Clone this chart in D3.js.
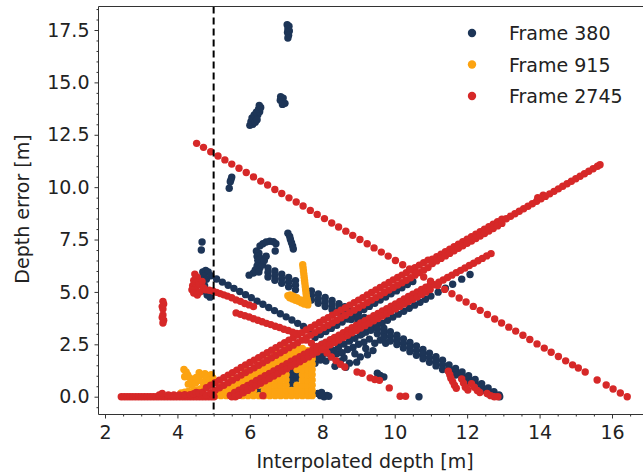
<!DOCTYPE html>
<html>
<head>
<meta charset="utf-8">
<script src="https://cdn.jsdelivr.net/npm/d3@7/dist/d3.min.js"></script>
<style>
  html, body { margin: 0; padding: 0; background: #fff; }
  svg { display: block; font-family: "DejaVu Sans", sans-serif; }
</style>
</head>
<body>
<svg id="chart" width="643" height="475"></svg>
<script>
// ---- data: [interpolated depth (m), depth error (m)] ----
const seriesNames = ["Frame 380", "Frame 915", "Frame 2745"];
const seriesColors = ["#1d3557", "#fca311", "#d62828"];
const xTicks = [2, 4, 6, 8, 10, 12, 14, 16];
const yTicks = [0, 2.5, 5, 7.5, 10, 12.5, 15, 17.5];
const thresholdDepth = 5;

const frame380 = [
  // isolated high-error clusters
  [7.03,17.75],[7.08,17.68],[7.05,17.55],[7.09,17.45],[7.04,17.38],[7.07,17.25],[7.05,17.12],
  [6.0,12.95],[6.08,13.0],[6.03,13.12],[6.12,13.18],[6.06,13.3],[6.16,13.32],[6.12,13.45],[6.22,13.45],
  [6.18,13.58],[6.27,13.6],[6.24,13.72],[6.3,13.8],[6.26,13.9],[6.15,13.1],[6.2,13.22],
  [6.85,14.32],[6.92,14.25],[6.84,14.15],[6.9,14.08],[6.97,14.0],[6.9,13.95],
  [5.5,10.48],[5.48,10.36],[5.46,10.26],[5.43,9.95],
  [4.66,7.0],[4.68,7.38],
  // upper cluster
  [6.28,7.2],[6.36,7.3],[6.45,7.38],[6.55,7.42],[6.65,7.4],[6.72,7.3],[6.7,6.95],
  [7.05,7.8],[7.1,7.65],[7.12,7.5],[7.15,7.35],[7.18,7.2],[7.2,7.05],
  [6.18,6.95],[6.25,6.85],[6.2,6.7],[6.3,6.6],[6.22,6.5],[6.32,6.4],[6.2,6.25],[6.28,6.15],
  [6.35,6.3],[6.4,6.5],[6.45,6.7],[6.15,6.05],[6.1,5.9],[6.25,5.95],[5.98,5.8],
  // comb (upper part)
  [6.5,6.15],[6.5,5.93],[6.5,5.71],[6.69,6.0],[6.69,5.78],[6.69,5.56],[6.88,5.85],[6.88,5.63],[6.88,5.41],
  [7.07,5.69],[7.07,5.47],[7.07,5.25],[7.26,5.54],[7.26,5.32],[7.26,5.1],
  [7.7,5.05],[7.7,4.83],[7.7,4.61],[7.89,4.9],[7.89,4.68],[7.89,4.46],[8.08,4.74],[8.08,4.52],[8.08,4.3],
  [8.27,4.59],[8.27,4.37],[8.27,4.15],[8.46,4.44],[8.46,4.22],[8.46,4.0],[8.62,4.3],[8.62,4.08],[8.62,3.86],
  // descending dotted line
  [4.7,5.95],[4.78,6.02],[4.85,5.95],[4.72,5.75],[4.8,5.6],[4.75,5.3],[4.7,5.05],[4.82,4.85],[4.9,4.75],
  [4.92,5.77],[5.08,5.62],[5.24,5.47],[5.4,5.32],[5.56,5.17],[5.72,5.02],[5.88,4.87],[6.04,4.72],
  [6.2,4.56],[6.36,4.41],[6.52,4.26],[6.68,4.11],[6.84,3.96],[7.0,3.81],[7.16,3.66],
  [7.32,3.5],[7.48,3.35],[7.64,3.2],
  // line between the red bands
  [7.8,2.82],[7.95,2.97],[8.1,3.11],[8.25,3.26],[8.4,3.41],[8.55,3.56],[8.7,3.71],[8.85,3.86],
  [9.0,4.01],[9.15,4.16],[9.3,4.31],[9.45,4.46],[9.6,4.61],[9.75,4.76],[9.9,4.91],[10.05,5.05],
  [10.2,5.2],[10.35,5.35],[10.5,5.5],
  // line below the lower red band
  [7.4,1.36],[7.55,1.51],[7.7,1.65],[7.85,1.79],[8.0,1.94],[8.15,2.08],[8.3,2.22],[8.45,2.36],
  [8.6,2.51],[8.75,2.65],[8.9,2.79],[9.05,2.94],[9.2,3.08],[9.35,3.22],[9.5,3.37],[9.65,3.51],
  [9.8,3.65],[9.95,3.8],[10.1,3.94],[10.25,4.08],[10.4,4.22],[10.55,4.37],[10.7,4.51],[10.85,4.65],
  [11.0,4.8],[11.2,4.99],[11.4,5.18],[11.6,5.37],[11.85,5.61],[12.08,5.83],
  // dense crossing area
  [7.8,1.6],[7.95,1.75],[8.1,1.7],[8.25,1.9],[8.4,2.05],[8.55,2.1],[8.7,2.25],[8.85,2.35],
  [9.0,2.5],[9.15,2.6],[9.3,2.75],[8.2,2.35],[8.5,2.6],[8.8,2.8],[9.1,3.0],[7.9,2.1],
  [8.6,1.85],[8.9,2.05],[9.2,2.3],[9.45,2.55],[9.6,2.7],[9.75,2.55],[8.5,1.7],[8.75,1.6],[9.05,1.9],
  [8.35,1.45],[8.65,1.4],[8.95,1.65],[9.25,2.0],[9.4,2.2],[8.0,2.5],[8.3,2.75],[8.6,3.0],[8.9,3.25],
  // comb (lower part)
  [8.8,4.12],[8.8,3.9],[8.8,3.68],[8.98,3.95],[8.98,3.73],[8.98,3.51],[9.16,3.78],[9.16,3.56],[9.16,3.34],
  [9.34,3.61],[9.34,3.39],[9.34,3.17],[9.52,3.44],[9.52,3.22],[9.52,3.0],[9.7,3.27],[9.7,3.05],[9.7,2.83],
  [9.88,3.1],[9.88,2.88],[9.88,2.66],[10.06,2.93],[10.06,2.71],[10.06,2.49],[10.24,2.76],[10.24,2.54],[10.24,2.32],
  [10.42,2.59],[10.42,2.37],[10.42,2.15],[10.6,2.42],[10.6,2.2],[10.6,1.98],[10.78,2.25],[10.78,2.03],[10.78,1.81],
  [10.96,2.08],[10.96,1.86],[10.96,1.64],[11.14,1.91],[11.14,1.69],[11.14,1.47],[11.32,1.74],[11.32,1.52],[11.32,1.3],
  [11.5,1.52],[11.5,1.36],[11.5,1.2],[11.68,1.35],[11.68,1.19],[11.68,1.03],[11.86,1.18],[11.86,1.02],[11.86,0.86],
  [12.04,1.0],[12.04,0.84],[12.04,0.68],[12.22,0.82],[12.22,0.66],[12.22,0.5],[12.4,0.62],[12.4,0.46],[12.4,0.3],
  [12.58,0.42],[12.58,0.28],[12.58,0.14],[12.74,0.24],[12.74,0.1],[12.88,0.08],[12.9,0.0],
  // small clusters near zero
  [7.88,0.15],[7.95,0.05],[8.05,0.0],[8.13,0.06],[7.98,0.2],[8.18,0.02],
  [9.52,1.12],[9.6,1.02],[9.7,0.94],[10.67,0.0],
  [7.15,0.6],[7.13,0.85],[7.17,1.1],[7.2,1.3],[7.3,0.85],[7.32,1.05],[6.25,0.3]
];

const frame915 = [
  // check-shaped cluster
  [7.46,6.3],[7.47,6.15],[7.48,6.0],[7.49,5.85],[7.5,5.7],[7.51,5.55],[7.52,5.4],[7.53,5.25],
  [7.54,5.1],[7.55,4.95],[7.56,4.8],[7.58,4.65],[7.6,4.5],[7.6,4.38],
  [7.5,4.42],[7.42,4.48],[7.34,4.55],[7.26,4.6],[7.18,4.66],[7.1,4.72],[7.05,4.82],
  [7.12,4.85],[7.2,4.8],[7.3,4.72],[7.4,4.62],[7.5,4.55],
  // near the threshold
  [4.18,1.3],[4.24,1.18],[4.28,1.05],[4.2,0.95],[4.34,0.9],[4.42,0.8],[4.6,1.15],[4.68,1.05],
  [4.76,1.1],[4.85,1.0],[4.93,1.05],[4.8,0.88],[4.9,0.8],[4.1,0.18],[4.2,0.22],[4.3,0.25],
  [4.45,0.28],[4.55,0.32],[4.65,0.38],[4.75,0.48],[4.85,0.58],[4.95,0.7],[4.4,0.55],[4.5,0.65],
  [4.6,0.78],[4.3,0.6],[4.7,0.7],[4.52,0.92],[4.98,0.9],
  // dense low-error region
  [5.05,0.05],[5.05,0.3],
  [5.2,0.05],[5.2,0.3],[5.2,0.5],
  [5.35,0.05],[5.35,0.3],[5.35,0.55],
  [5.5,0.05],[5.5,0.3],[5.5,0.55],[5.5,0.8],
  [5.65,0.05],[5.65,0.3],[5.65,0.55],[5.65,0.8],
  [5.8,0.05],[5.8,0.3],[5.8,0.55],[5.8,0.8],[5.8,1.05],
  [5.95,0.05],[5.95,0.3],[5.95,0.55],[5.95,0.8],[5.95,1.05],[5.95,1.25],
  [6.1,0.05],[6.1,0.3],[6.1,0.55],[6.1,0.8],[6.1,1.05],[6.1,1.3],
  [6.25,0.05],[6.25,0.55],[6.25,0.8],[6.25,1.05],[6.25,1.3],[6.25,1.5],
  [6.4,0.05],[6.4,0.3],[6.4,0.55],[6.4,0.8],[6.4,1.05],[6.4,1.3],[6.4,1.55],
  [6.55,0.05],[6.55,0.3],[6.55,0.55],[6.55,0.8],[6.55,1.05],[6.55,1.3],[6.55,1.55],[6.55,1.8],
  [6.7,0.05],[6.7,0.3],[6.7,0.55],[6.7,0.8],[6.7,1.05],[6.7,1.3],[6.7,1.55],[6.7,1.8],[6.7,2.0],
  [6.85,0.05],[6.85,0.3],[6.85,0.55],[6.85,0.8],[6.85,1.05],[6.85,1.3],[6.85,1.55],[6.85,1.8],[6.85,2.05],
  [7.0,0.05],[7.0,0.3],[7.0,0.55],[7.0,0.8],[7.0,1.05],[7.0,1.3],[7.0,1.55],[7.0,1.8],[7.0,2.05],[7.0,2.25],
  [7.15,0.05],[7.15,0.3],[7.15,1.55],[7.15,1.8],[7.15,2.05],[7.15,2.3],
  [7.3,0.05],[7.3,0.3],[7.3,0.55],[7.3,1.3],[7.3,1.55],[7.3,1.8],[7.3,2.05],[7.3,2.3],
  [7.45,0.05],[7.45,0.3],[7.45,0.55],[7.45,0.8],[7.45,1.05],[7.45,1.3],[7.45,1.55],[7.45,1.8],[7.45,2.05],[7.45,2.3],
  [7.6,0.05],[7.6,0.3],[7.6,0.55],[7.6,0.8],[7.6,1.05],[7.6,1.3],[7.6,1.55],[7.6,1.8],[7.6,2.0],[7.6,2.2],
  [7.72,0.05],[7.72,0.3],[7.72,0.55],[7.72,0.8],[7.72,1.05],[7.72,1.3],[7.72,1.55],[7.72,1.8],[7.72,2.0]
];

const frame2745 = [
  // flat run at zero error
  [2.45,0],[2.53,0],[2.61,0],[2.69,0],[2.77,0],[2.85,0],[2.93,0],[3.01,0],[3.09,0],[3.17,0],[3.25,0],
  [3.33,0],[3.41,0],[3.49,0],[3.57,0],[3.65,0],[3.73,0],[3.81,0],[3.89,0],[3.97,0],[4.05,0],[4.13,0],
  [4.21,0],[4.29,0],[4.37,0],[4.45,0],[4.53,0],[4.61,0],[4.69,0],[4.77,0],[4.85,0],[4.93,0],[5.01,0],
  [3.5,0.08],[3.58,0.16],[3.75,0.08],[3.9,0.08],[4.05,0.08],[4.2,0.1],[4.35,0.1],[4.45,0.14],[4.52,0.2],
  [4.6,0.18],[4.7,0.22],
  // upper rising band
  [4.8,0.43],[4.8,0.07],[4.92,0.55],[4.92,0.19],[5.04,0.67],[5.04,0.31],[5.16,0.79],[5.16,0.43],
  [5.28,0.91],[5.28,0.55],[5.4,1.03],[5.4,0.67],[5.52,1.15],[5.52,0.79],[5.64,1.27],[5.64,0.91],
  [5.76,1.39],[5.76,1.03],[5.88,1.51],[5.88,1.15],[6.0,1.63],[6.0,1.27],[6.12,1.74],[6.12,1.38],
  [6.24,1.86],[6.24,1.5],[6.36,1.98],[6.36,1.62],[6.48,2.1],[6.48,1.74],[6.6,2.22],[6.6,1.86],
  [6.72,2.34],[6.72,1.98],[6.84,2.46],[6.84,2.1],[6.96,2.58],[6.96,2.22],[7.08,2.7],[7.08,2.34],
  [7.2,2.82],[7.2,2.46],[7.32,2.94],[7.32,2.58],[7.44,3.06],[7.44,2.7],[7.56,3.18],[7.56,2.82],
  [7.68,3.3],[7.68,2.94],[7.8,3.42],[7.8,3.06],[7.92,3.54],[7.92,3.18],[8.04,3.66],[8.04,3.3],
  [8.16,3.77],[8.16,3.41],[8.28,3.89],[8.28,3.53],[8.4,4.01],[8.4,3.65],[8.52,4.13],[8.52,3.77],
  [8.64,4.25],[8.64,3.89],[8.76,4.37],[8.76,4.01],[8.88,4.49],[8.88,4.13],[9.0,4.61],[9.0,4.25],
  [9.12,4.73],[9.12,4.37],[9.24,4.85],[9.24,4.49],[9.36,4.97],[9.36,4.61],[9.48,5.09],[9.48,4.73],
  [9.6,5.21],[9.6,4.85],[9.72,5.33],[9.72,4.97],[9.84,5.45],[9.84,5.09],[9.96,5.57],[9.96,5.21],
  [10.08,5.69],[10.08,5.33],[10.2,5.8],[10.2,5.44],[10.32,5.92],[10.32,5.56],[10.44,6.04],[10.44,5.68],
  [10.56,6.16],[10.56,5.8],[10.68,6.28],[10.68,5.92],[10.8,6.4],[10.8,6.04],[10.92,6.52],[10.92,6.16],
  [11.04,6.56],[11.04,6.36],[11.16,6.68],[11.16,6.48],[11.28,6.8],[11.28,6.6],[11.4,6.92],[11.4,6.72],
  [11.52,7.04],[11.52,6.84],[11.64,7.16],[11.64,6.96],[11.76,7.28],[11.76,7.08],[11.88,7.4],[11.88,7.2],
  [12.0,7.52],[12.0,7.32],[12.12,7.63],[12.12,7.43],[12.24,7.75],[12.24,7.55],[12.36,7.87],[12.36,7.67],
  [12.48,7.99],[12.48,7.79],[12.6,8.11],[12.6,7.91],[12.72,8.23],[12.72,8.03],[12.84,8.35],[12.84,8.15],
  [12.96,8.47],[12.96,8.27],
  [13.08,8.49],[13.2,8.61],[13.32,8.73],[13.44,8.85],[13.56,8.97],[13.68,9.09],[13.8,9.21],[13.92,9.33],
  [13.95,9.5],[14.04,9.45],[14.1,9.62],[14.16,9.56],[14.28,9.68],[14.4,9.8],[14.52,9.92],[14.64,10.04],
  [14.76,10.16],[14.88,10.28],[15.0,10.4],[15.12,10.52],[15.24,10.64],[15.36,10.76],[15.48,10.88],
  [15.6,11.0],[15.67,11.07],
  // lower rising band
  [5.46,0.06],[5.5,0.0],[5.58,0.2],[5.6,0.0],[5.7,0.31],[5.7,0.07],[5.82,0.43],[5.82,0.19],
  [5.94,0.54],[5.94,0.3],[6.06,0.65],[6.06,0.41],[6.18,0.77],[6.18,0.53],[6.3,0.88],[6.3,0.64],
  [6.42,1.0],[6.42,0.76],[6.54,1.11],[6.54,0.87],[6.66,1.23],[6.66,0.99],[6.78,1.34],[6.78,1.1],
  [6.9,1.46],[6.9,1.22],[7.02,1.57],[7.02,1.33],[7.14,1.69],[7.14,1.45],[7.26,1.8],[7.26,1.56],
  [7.38,1.91],[7.38,1.67],[7.5,2.03],[7.5,1.79],[7.62,2.14],[7.62,1.9],[7.74,2.26],[7.74,2.02],
  [7.86,2.37],[7.86,2.13],[7.98,2.49],[7.98,2.25],[8.1,2.6],[8.1,2.36],[8.22,2.72],[8.22,2.48],
  [8.34,2.83],[8.34,2.59],[8.46,2.94],[8.46,2.7],[8.58,3.06],[8.58,2.82],[8.7,3.17],[8.7,2.93],
  [8.82,3.29],[8.82,3.05],[8.94,3.4],[8.94,3.16],[9.06,3.52],[9.06,3.28],[9.18,3.63],[9.18,3.39],
  [9.3,3.75],[9.3,3.51],[9.42,3.86],[9.42,3.62],[9.54,3.97],[9.54,3.73],[9.66,4.09],[9.66,3.85],
  [9.78,4.2],[9.78,3.96],[9.9,4.32],[9.9,4.08],[10.02,4.43],[10.02,4.19],[10.14,4.55],[10.14,4.31],
  [10.26,4.66],[10.26,4.42],[10.38,4.78],[10.38,4.54],[10.5,4.89],[10.5,4.65],[10.62,5.0],[10.62,4.76],
  [10.74,5.12],[10.74,4.88],[10.86,5.23],[10.86,4.99],[10.98,5.35],[10.98,5.11],
  [11.1,5.34],[11.22,5.46],[11.34,5.57],[11.46,5.69],[11.58,5.8],[11.7,5.92],[11.82,6.03],[11.94,6.14],
  [12.06,6.26],[12.18,6.37],[12.3,6.49],[12.42,6.6],[12.54,6.72],[12.66,6.83],
  // long descending line
  [4.53,12.09],[4.72,11.9],[4.92,11.69],[5.12,11.49],[5.31,11.3],[5.5,11.1],[5.7,10.9],[5.9,10.7],
  [6.1,10.49],[6.3,10.29],[6.49,10.1],[6.69,9.89],[6.88,9.7],[7.08,9.49],[7.28,9.29],[7.47,9.1],
  [7.67,8.89],[7.86,8.7],[8.06,8.5],[8.26,8.29],[8.45,8.1],[8.65,7.9],[8.84,7.7],[9.04,7.5],
  [9.24,7.3],[9.43,7.1],[9.63,6.9],[9.82,6.71],[10.02,6.5],[10.22,6.3],[10.41,6.1],[10.6,5.91],
  [10.8,5.71],[10.99,5.51],[11.19,5.31],[11.38,5.12],[11.58,4.91],[11.78,4.71],[11.97,4.52],[12.17,4.31],
  [12.36,4.12],[12.56,3.92],[12.76,3.71],[12.95,3.52],[13.15,3.32],[13.34,3.13],[13.54,2.93],[13.73,2.73],
  [13.93,2.52],[14.13,2.32],[14.32,2.12],[14.52,1.92],[14.72,1.71],[14.91,1.52],[15.07,1.37],[15.26,1.18],
  [15.59,0.8],[15.84,0.56],[16.03,0.37],[16.23,0.18],[16.42,0.0],
  // cluster near 4.5 m and the streaks leaving it
  [4.48,5.85],[4.55,5.7],[4.45,5.55],[4.52,5.45],[4.42,5.3],[4.5,5.2],[4.4,5.1],[4.45,4.95],
  [4.55,4.85],[4.62,5.0],[4.6,5.35],[4.68,5.5],[4.72,5.2],[4.78,5.1],
  [4.88,5.08],[4.98,5.05],[5.08,4.98],[5.18,4.92],[5.28,4.86],[5.38,4.8],[5.5,4.72],[5.62,4.62],
  [5.74,4.55],[5.86,4.45],[5.98,4.38],[6.1,4.3],
  [5.62,4.0],[5.74,3.93],[5.86,3.86],[5.98,3.8],[6.1,3.72],[6.22,3.65],[6.34,3.58],[6.46,3.5],
  [6.58,3.44],[6.7,3.36],[6.82,3.3],[6.94,3.22],[7.06,3.16],[7.18,3.08],[7.3,3.02],
  [7.55,2.7],[7.7,2.55],[7.85,2.4],[8.0,2.25],[8.13,2.09],[8.25,1.9],[8.38,1.72],[8.5,1.55],
  [8.62,1.42],[8.96,1.18],[9.1,1.12],[9.32,0.9],[9.45,0.82],[9.58,0.78],[9.85,0.42],[10.15,0.02],[10.3,0.02],
  // small groups
  [3.6,4.55],[3.62,4.42],[3.58,4.3],[3.6,4.18],[3.6,3.9],[3.58,3.78],[3.62,3.65],[3.6,3.52],
  [11.48,1.22],[11.52,1.05],[11.55,0.88],[11.6,0.72],[11.65,0.55],[11.7,0.4],[11.85,0.85],[11.9,0.65],
  [11.95,0.45],[12.02,0.32],[12.12,0.62],[12.2,0.45],[12.28,0.3],[12.35,0.2],[12.55,0.15],[12.65,0.05],
  [12.75,0.0],[12.85,0.0],
  [6.36,0.05]
];

const seriesData = [frame380, frame915, frame2745];

// ---- layout ----
const svg = d3.select("#chart");
const plot = { left: 98.5, top: 6.5, right: 660, bottom: 414.5 };
const fontSize = 19;

const x = d3.scaleLinear().domain([2, 16]).range([105, 612]);
const y = d3.scaleLinear().domain([0, 17.5]).range([396.7, 30]);

svg.append("defs").append("clipPath").attr("id", "plotClip")
  .append("rect")
  .attr("x", plot.left).attr("y", plot.top)
  .attr("width", plot.right - plot.left).attr("height", plot.bottom - plot.top);

// scatter points, drawn in series order
const pts = svg.append("g").attr("clip-path", "url(#plotClip)");
seriesData.forEach((data, i) => {
  pts.append("g")
    .selectAll("circle")
    .data(data)
    .join("circle")
    .attr("cx", d => x(d[0]))
    .attr("cy", d => y(d[1]))
    .attr("r", 3.7)
    .attr("fill", seriesColors[i]);
});

// threshold line
svg.append("line")
  .attr("x1", x(thresholdDepth)).attr("x2", x(thresholdDepth))
  .attr("y1", plot.top).attr("y2", plot.bottom)
  .attr("stroke", "#000").attr("stroke-width", 2)
  .attr("stroke-dasharray", "7,4");

// axes
const xMinor = d3.range(2, 17.01, 0.5).filter(v => !xTicks.includes(v));
const yMinor = d3.range(-0.5, 18.51, 0.5).filter(v => !yTicks.includes(v));

svg.append("g").attr("transform", `translate(0,${plot.bottom})`)
  .call(d3.axisBottom(x).tickValues(xTicks).tickFormat(d3.format("d")).tickSize(4).tickPadding(7));
svg.append("g").attr("transform", `translate(0,${plot.bottom})`)
  .call(d3.axisBottom(x).tickValues(xMinor).tickFormat("").tickSize(2));

svg.append("g").attr("transform", `translate(${plot.left},0)`)
  .call(d3.axisLeft(y).tickValues(yTicks).tickFormat(d3.format(".1f")).tickSize(4).tickPadding(5));
svg.append("g").attr("transform", `translate(${plot.left},0)`)
  .call(d3.axisLeft(y).tickValues(yMinor).tickFormat("").tickSize(2));

svg.selectAll(".domain").remove();
svg.selectAll(".tick line").attr("stroke", "#333").attr("stroke-width", 1);
svg.selectAll(".tick text").attr("font-size", fontSize).attr("fill", "#222")
  .attr("font-family", "DejaVu Sans, sans-serif");

// spines (left, top, bottom)
svg.append("path")
  .attr("d", `M${plot.right},${plot.top}H${plot.left}V${plot.bottom}H${plot.right}`)
  .attr("fill", "none").attr("stroke", "#333").attr("stroke-width", 1);

// axis titles
svg.append("text")
  .attr("x", 365).attr("y", 468)
  .attr("text-anchor", "middle").attr("font-size", fontSize).attr("fill", "#222")
  .text("Interpolated depth [m]");
svg.append("text")
  .attr("transform", "translate(29,209) rotate(-90)")
  .attr("text-anchor", "middle").attr("font-size", fontSize).attr("fill", "#222")
  .text("Depth error [m]");

// legend
const legend = svg.append("g");
seriesNames.forEach((name, i) => {
  const ly = 33 + i * 31.5;
  legend.append("circle").attr("cx", 472).attr("cy", ly).attr("r", 4.2).attr("fill", seriesColors[i]);
  legend.append("text").attr("x", 509).attr("y", ly + 7)
    .attr("font-size", fontSize).attr("fill", "#222").text(name);
});
</script>
</body>
</html>
